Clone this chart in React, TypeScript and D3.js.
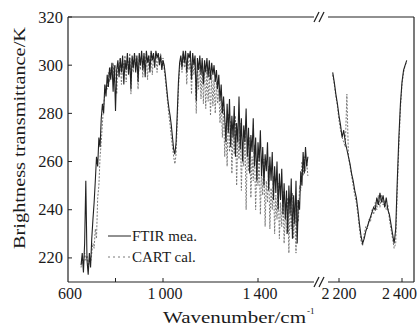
import React from "react";
import * as d3 from "d3";

// ---------- data ----------
const leftStart = 655;
const rightStart = 2180;
const step = 5;

const ftirLeft = [
  217, 222, 214, 226, 252, 219, 213, 222, 216, 228,
  236, 243, 252, 262, 258, 270, 266, 278, 284, 280,
  292, 287, 296, 291, 299, 294, 301, 289, 300, 281,
  298, 302, 295, 303, 297, 304, 292, 302, 298, 305,
  296, 303, 290, 304, 299, 305, 297, 304, 293, 305,
  300, 306, 298, 305, 295, 306, 301, 304, 297, 306,
  302, 305, 299, 306, 303, 305, 300, 304, 298, 302,
  300, 296, 291, 286, 282, 279, 275, 270, 265, 263,
  268, 280, 293, 301, 304, 299, 306, 301, 306, 297,
  305, 303, 306, 294, 305, 300, 304, 285, 303, 298,
  304, 296, 303, 292, 302, 297, 303, 295, 302, 294,
  301, 296, 300, 293, 298, 290, 296, 285, 292, 280,
  287, 278, 268, 284, 272, 286, 266, 279, 270, 283,
  262, 276, 268, 287, 265, 278, 260, 275, 268, 282,
  262, 274, 255, 271, 264, 278, 258, 270, 252, 268,
  260, 273, 254, 266, 250, 263, 256, 268, 248, 262,
  252, 264, 244, 258, 247, 260, 240, 255, 244, 257,
  238, 251, 236, 248, 230, 250, 238, 253, 228, 246,
  234, 252, 226, 244, 240, 256, 250, 264, 255, 266,
  258, 262,
];

const cartLeft = [
  216, 220, 217, 222, 219, 221, 216, 220, 218, 222,
  226, 224, 232, 228, 245, 250, 262, 268, 276, 283,
  288, 292, 290, 297, 293, 299, 296, 301, 294, 300,
  288, 301, 297, 303, 292, 302, 299, 304, 293, 303,
  300, 305, 288, 303, 297, 305, 300, 303, 290, 304,
  298, 305, 295, 304, 301, 305, 294, 304, 300, 305,
  296, 304, 301, 305, 297, 304, 302, 305, 300, 303,
  298, 294, 289, 284, 279, 275, 270, 266, 262, 259,
  263, 276, 290, 299, 303, 297, 305, 299, 304, 292,
  303, 298, 304, 288, 302, 296, 301, 280, 300, 290,
  302, 286, 300, 284, 299, 282, 298, 285, 297, 279,
  296, 283, 294, 280, 293, 284, 290, 276, 286, 270,
  282, 262, 276, 258, 280, 264, 277, 255, 272, 263,
  279, 250, 270, 261, 276, 248, 268, 258, 273, 240,
  266, 256, 270, 245, 262, 252, 267, 240, 258, 250,
  264, 238, 256, 246, 261, 233, 252, 243, 258, 232,
  249, 240, 254, 230, 246, 236, 251, 228, 243, 233,
  248, 226, 240, 230, 245, 222, 242, 232, 247, 228,
  240, 222, 244, 235, 250, 248, 260, 254, 262, 256,
  260, 254,
];

const ftirRight = [
  297, 293, 288, 284, 279, 275, 270, 273, 268, 265,
  262, 259, 255, 252, 248, 245, 240, 234, 229, 226,
  228, 231, 233, 235, 237, 239, 241, 240, 245, 242,
  247, 243, 246, 241, 245, 240, 238, 234, 230, 226,
  232, 252, 270, 284, 293, 298, 300, 302,
];

const cartRight = [
  296, 292, 287, 283, 277, 273, 270, 268, 266, 288,
  262, 258, 254, 250, 246, 243, 238, 232, 227, 225,
  230, 233, 232, 236, 235, 240, 238, 243, 240, 246,
  241, 246, 242, 244, 240, 242, 236, 232, 228, 224,
  226, 248, 266, 282, 292, 297, 300, 301,
];

const yTicks = [220, 240, 260, 280, 300, 320];
const xTicksLeft = [800, 1000, 1400];
const xLabelsLeft = [600, 1000, 1400];
const xTicksRight = [2200, 2400];
const seriesNames = ["FTIR mea.", "CART cal."];

// ---------- layout ----------
const W = 418;
const H = 331;
const L = 68;
const R = 414;
const T = 17;
const B = 282;
const breakL = 314;
const breakR = 328;

const fmt = (v: number) => {
  const s = String(v);
  return s.length > 3 ? s.slice(0, s.length - 3) + "\u2009" + s.slice(-3) : s;
};

export default function App() {
  const y = d3.scaleLinear().domain([210, 320]).range([B, T]);
  const xl = d3.scaleLinear().domain([600, 1000]).range([L, L + 95]);
  const xr = d3.scaleLinear().domain([2200, 2400]).range([339, 402]);

  const leftW = d3.range(ftirLeft.length).map((i) => leftStart + i * step);
  const rightW = d3.range(ftirRight.length).map((i) => rightStart + i * step);

  const lineL = d3
    .line<number>()
    .x((_, i) => xl(leftW[i]))
    .y((d) => y(d));
  const lineR = d3
    .line<number>()
    .x((_, i) => xr(rightW[i]))
    .y((d) => y(d));

  const font = "Liberation Serif, Times New Roman, serif";
  const tick = 4;
  const ftirColor = "#222";
  const cartColor = "#7a7a7a";
  const textColor = "#1a1a1a";

  const slash = (x: number, yc: number, k: string) => (
    <g key={k} stroke="#222" strokeWidth={1.3}>
      <line x1={x - 3} y1={yc + 5} x2={x + 2} y2={yc - 5} />
      <line x1={x + 2} y1={yc + 5} x2={x + 7} y2={yc - 5} />
    </g>
  );

  return (
    <svg
      width={W}
      height={H}
      style={{ position: "absolute", left: 0, top: 0, background: "#fff", fontFamily: font }}
    >
      {/* data */}
      <g fill="none">
        <path d={lineL(cartLeft) || ""} stroke={cartColor} strokeWidth={1} strokeDasharray="2,1.5" />
        <path d={lineR(cartRight) || ""} stroke={cartColor} strokeWidth={1} strokeDasharray="2,1.5" />
        <path d={lineL(ftirLeft) || ""} stroke={ftirColor} strokeWidth={1.1} />
        <path d={lineR(ftirRight) || ""} stroke={ftirColor} strokeWidth={1.1} />
      </g>

      {/* frame */}
      <g stroke="#222" strokeWidth={1.2} fill="none">
        <line x1={L} y1={T} x2={L} y2={B} />
        <line x1={R} y1={T} x2={R} y2={B} />
        <line x1={L} y1={T} x2={breakL} y2={T} />
        <line x1={breakR} y1={T} x2={R} y2={T} />
        <line x1={L} y1={B} x2={breakL} y2={B} />
        <line x1={breakR} y1={B} x2={R} y2={B} />
      </g>
      {slash(317, T, "st")}
      {slash(317, B, "sb")}

      {/* y ticks */}
      <g stroke="#222" strokeWidth={1}>
        {yTicks.map((t) => (
          <line key={t} x1={L} x2={L + tick} y1={y(t)} y2={y(t)} />
        ))}
      </g>
      <g fontSize={16.5} textAnchor="end" fill={textColor}>
        {yTicks.map((t) => (
          <text key={t} x={L - 5} y={y(t) + 5.5}>
            {t}
          </text>
        ))}
      </g>

      {/* x ticks */}
      <g stroke="#222" strokeWidth={1}>
        {xTicksLeft.map((t) => (
          <line key={t} x1={xl(t)} x2={xl(t)} y1={B} y2={B - tick} />
        ))}
        {xTicksRight.map((t) => (
          <line key={t} x1={xr(t)} x2={xr(t)} y1={B} y2={B - tick} />
        ))}
      </g>
      <g fontSize={16} textAnchor="middle" fill={textColor}>
        {xLabelsLeft.map((t) => (
          <text key={t} x={xl(t) + 2} y={299}>
            {fmt(t)}
          </text>
        ))}
        {xTicksRight.map((t, i) => (
          <text key={t} x={xr(t) - (i === xTicksRight.length - 1 ? 2.5 : 0)} y={299}>
            {fmt(t)}
          </text>
        ))}
      </g>

      {/* axis titles */}
      <text
        x={163}
        y={323}
        fontSize={17.5}
        fill={textColor}
        textLength={143}
        lengthAdjust="spacingAndGlyphs"
      >
        Wavenumber/cm
      </text>
      <text x={307} y={314} fontSize={9} fill={textColor}>
        -1
      </text>
      <text
        transform={`translate(25,${249}) rotate(-90)`}
        fontSize={17.5}
        fill={textColor}
        textLength={222}
        lengthAdjust="spacingAndGlyphs"
      >
        Brightness transmittance/K
      </text>

      {/* legend */}
      <g>
        <line x1={108} x2={131} y1={236} y2={236} stroke={ftirColor} strokeWidth={1} />
        <text x={132} y={241} fontSize={15} fill={textColor}>
          {seriesNames[0]}
        </text>
        <line
          x1={108}
          x2={131}
          y1={257}
          y2={257}
          stroke={cartColor}
          strokeWidth={1}
          strokeDasharray="2,3"
        />
        <text x={132} y={262} fontSize={15} fill={textColor}>
          {seriesNames[1]}
        </text>
      </g>
    </svg>
  );
}
